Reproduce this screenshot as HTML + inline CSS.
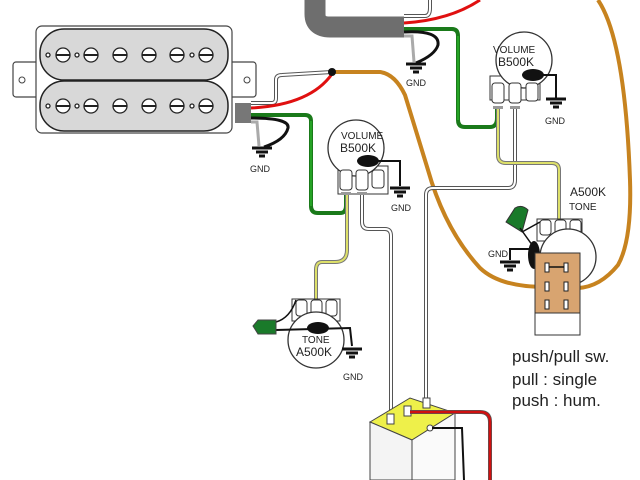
<!DOCTYPE html>
<html><head><meta charset="utf-8"><style>
html,body{margin:0;padding:0;background:#fff;width:640px;height:480px;overflow:hidden}
svg{display:block}
text{font-family:"Liberation Sans",sans-serif;fill:#222}
</style></head><body>
<svg width="640" height="480" viewBox="0 0 640 480" xmlns="http://www.w3.org/2000/svg">
<defs>
<g id="gnd"><path d="M0,0" /><line x1="-10" y1="0" x2="10" y2="0" stroke="#111" stroke-width="3"/><line x1="-6" y1="4" x2="6" y2="4" stroke="#111" stroke-width="3"/><line x1="-3" y1="8" x2="3" y2="8" stroke="#111" stroke-width="3"/></g>
</defs>
<!-- orange wires -->
<path d="M332,72 L380,72 Q395,74 405,95 L428,170 Q445,230 480,268 Q500,287 545,287" fill="none" stroke="#c7831f" stroke-width="4"/>
<path d="M598,0 Q625,40 630,180 Q632,240 618,265 Q600,287 578,288" fill="none" stroke="#c7831f" stroke-width="4"/>
<!-- top grey cable -->
<path d="M315,0 L315,14 Q315,27 330,27 L404,27" fill="none" stroke="#6e6e6e" stroke-width="21"/>
<path d="M404,16 L425,16 Q430,16 430,8 L430,0" fill="none" stroke="#555" stroke-width="4"/>
<path d="M404,16 L425,16 Q430,16 430,8 L430,0" fill="none" stroke="#fff" stroke-width="2"/>
<path d="M404,23 Q450,20 480,0" fill="none" stroke="#e01010" stroke-width="3"/>
<path d="M404,29 L452,29 Q458,29 458,36 L458,120 Q458,127 465,127 L490,127 Q497,127 497,118 L497,108" fill="none" stroke="#1a7a1a" stroke-width="4"/>
<path d="M458,36 L458,120" fill="none" stroke="#3c3" stroke-width="1"/>
<path d="M404,32 Q440,30 438,45 Q435,55 416,63" fill="none" stroke="#111" stroke-width="3"/>
<path d="M404,36 L412,36 L414,62" fill="none" stroke="#aaa" stroke-width="3"/>
<use href="#gnd" x="416" y="64"/>
<text x="406" y="86" font-size="9">GND</text>
<!-- pickup -->
<rect x="13" y="62" width="30" height="35" rx="3" fill="#fff" stroke="#444" stroke-width="1.2"/>
<rect x="228" y="62" width="28" height="35" rx="3" fill="#fff" stroke="#444" stroke-width="1.2"/>
<circle cx="22" cy="80" r="3" fill="#fff" stroke="#444"/>
<circle cx="247" cy="80" r="3" fill="#fff" stroke="#444"/>
<rect x="36" y="26" width="196" height="107" rx="6" fill="#fff" stroke="#444" stroke-width="1.2"/>
<rect x="40" y="29" width="188" height="51" rx="24" fill="#d8d8d8" stroke="#222" stroke-width="1.5"/>
<rect x="40" y="81" width="188" height="50" rx="24" fill="#d8d8d8" stroke="#222" stroke-width="1.5"/>
<g fill="#fff" stroke="#222" stroke-width="1.3">
<circle cx="63" cy="55" r="7"/><circle cx="91" cy="55" r="7"/><circle cx="120" cy="55" r="7"/><circle cx="149" cy="55" r="7"/><circle cx="177" cy="55" r="7"/><circle cx="206" cy="55" r="7"/>
<circle cx="63" cy="106" r="7"/><circle cx="91" cy="106" r="7"/><circle cx="120" cy="106" r="7"/><circle cx="149" cy="106" r="7"/><circle cx="177" cy="106" r="7"/><circle cx="206" cy="106" r="7"/>
<circle cx="48" cy="55" r="2"/><circle cx="77" cy="55" r="2"/><circle cx="192" cy="55" r="2"/>
<circle cx="48" cy="106" r="2"/><circle cx="77" cy="106" r="2"/><circle cx="192" cy="106" r="2"/>
</g>
<g stroke="#222" stroke-width="2">
<path d="M56,55h14M84,55h14M113,55h14M142,55h14M170,55h14M199,55h14M56,106h14M84,106h14M113,106h14M142,106h14M170,106h14M199,106h14"/>
</g>
<!-- pickup wires -->
<rect x="235" y="103" width="16" height="20" fill="#777"/>
<path d="M251,103 L272,103 Q276,103 276,98 L276,80 Q276,75 282,75 L332,72" fill="none" stroke="#555" stroke-width="4"/>
<path d="M251,103 L272,103 Q276,103 276,98 L276,80 Q276,75 282,75 L332,72" fill="none" stroke="#fff" stroke-width="2"/>
<path d="M251,108 Q310,105 332,74" fill="none" stroke="#e01010" stroke-width="3"/>
<path d="M251,115 L305,115 Q311,115 311,121 L311,206 Q311,213 318,213 L340,213 Q346,213 346,206 L346,195" fill="none" stroke="#1a7a1a" stroke-width="4"/>
<path d="M311,121 L311,206" stroke="#3c3" stroke-width="1"/>
<path d="M251,118 Q290,118 288,128 Q285,140 264,147" fill="none" stroke="#111" stroke-width="3"/>
<path d="M251,122 L257,122 L259,146" fill="none" stroke="#aaa" stroke-width="3"/>
<circle cx="332" cy="72" r="4" fill="#111"/>
<use href="#gnd" x="262" y="148"/>
<text x="250" y="172" font-size="9">GND</text>
<!-- grey wires to bottom switch -->
<path d="M362,195 L362,222 Q362,229 369,229 L385,229 Q391,229 391,236 L391,418" fill="none" stroke="#555" stroke-width="4"/>
<path d="M362,195 L362,222 Q362,229 369,229 L385,229 Q391,229 391,236 L391,418" fill="none" stroke="#fff" stroke-width="2"/>
<path d="M515,108 L515,180 Q515,188 508,188 L433,188 Q426,188 426,195 L426,402" fill="none" stroke="#555" stroke-width="4"/>
<path d="M515,108 L515,180 Q515,188 508,188 L433,188 Q426,188 426,195 L426,402" fill="none" stroke="#fff" stroke-width="2"/>
<!-- yellow wires -->
<path d="M347,195 L347,250 Q347,262 335,262 L322,262 Q316,262 316,270 L316,300" fill="none" stroke="#777" stroke-width="4"/>
<path d="M347,195 L347,250 Q347,262 335,262 L322,262 Q316,262 316,270 L316,300" fill="none" stroke="#dde06a" stroke-width="2"/>
<path d="M498,108 L498,155 Q498,163 506,163 L552,163 Q559,163 559,170 L559,220" fill="none" stroke="#777" stroke-width="4"/>
<path d="M498,108 L498,155 Q498,163 506,163 L552,163 Q559,163 559,170 L559,220" fill="none" stroke="#dde06a" stroke-width="2"/>
<!-- volume pot 1 -->
<g>
<rect x="338" y="166" width="50" height="28" fill="#fff" stroke="#333"/>
<circle cx="356" cy="148" r="28" fill="#fff" stroke="#333" stroke-width="1.3"/>
<text x="341" y="139" font-size="10">VOLUME</text>
<text x="340" y="152" font-size="12">B500K</text>
<ellipse cx="368" cy="161" rx="11" ry="6" fill="#111"/>
<path d="M378,161 L400,161 L400,186" fill="none" stroke="#111" stroke-width="2"/>
<g fill="#fff" stroke="#333"><rect x="340" y="170" width="12" height="20" rx="3"/><rect x="356" y="170" width="12" height="20" rx="3"/><rect x="372" y="170" width="12" height="18" rx="3"/></g>
<rect x="341" y="192" width="10" height="3" fill="#999"/><rect x="357" y="192" width="10" height="3" fill="#999"/>
</g>
<use href="#gnd" x="400" y="188"/>
<text x="391" y="211" font-size="9">GND</text>
<!-- volume pot 2 -->
<g>
<rect x="490" y="76" width="50" height="24" fill="#fff" stroke="#333"/>
<circle cx="524" cy="60" r="28" fill="#fff" stroke="#333" stroke-width="1.3"/>
<text x="493" y="53" font-size="10">VOLUME</text>
<text x="498" y="66" font-size="12">B500K</text>
<ellipse cx="533" cy="75" rx="11" ry="6" fill="#111"/>
<path d="M543,75 L556,75 L556,98" fill="none" stroke="#111" stroke-width="2"/>
<g fill="#fff" stroke="#333"><rect x="492" y="83" width="12" height="20" rx="3"/><rect x="509" y="83" width="12" height="20" rx="3"/><rect x="526" y="83" width="12" height="18" rx="3"/></g>
<rect x="493" y="106" width="10" height="3" fill="#999"/><rect x="510" y="106" width="10" height="3" fill="#999"/>
</g>
<use href="#gnd" x="556" y="99"/>
<text x="545" y="124" font-size="9">GND</text>
<!-- tone pot 1 -->
<g>
<rect x="292" y="299" width="48" height="22" fill="#fff" stroke="#333"/>
<g fill="#fff" stroke="#333"><rect x="296" y="300" width="11" height="16" rx="3"/><rect x="311" y="300" width="11" height="16" rx="3"/><rect x="326" y="300" width="11" height="16" rx="3"/></g>
<circle cx="316" cy="340" r="28" fill="#fff" stroke="#333" stroke-width="1.3"/>
<text x="302" y="343" font-size="10">TONE</text>
<text x="296" y="356" font-size="12">A500K</text>
<ellipse cx="318" cy="328" rx="11" ry="6" fill="#111"/>
<path d="M276,322 Q290,318 296,300" fill="none" stroke="#111" stroke-width="1.5"/>
<path d="M276,330 L350,328 L352,346" fill="none" stroke="#111" stroke-width="2"/>
<path d="M253,326 L258,320 L276,320 L276,334 L258,334 Z" fill="#1a7a2a" stroke="#444"/>
</g>
<use href="#gnd" x="352" y="349"/>
<text x="343" y="380" font-size="9">GND</text>
<!-- tone pot 2 + switch -->
<g>
<rect x="537" y="219" width="45" height="22" fill="#fff" stroke="#333"/>
<g fill="#fff" stroke="#333"><rect x="540" y="220" width="11" height="15" rx="3"/><rect x="555" y="220" width="11" height="15" rx="3"/><rect x="570" y="220" width="11" height="15" rx="3"/></g>
<circle cx="568" cy="257" r="28" fill="#fff" stroke="#333" stroke-width="1.3"/>
<path d="M506,222 L515,208 Q522,204 528,210 L522,232 Z" fill="#1a7a2a" stroke="#333"/>
<path d="M520,228 L540,256 M522,232 L540,222" stroke="#111" stroke-width="1.5" fill="none"/>
<ellipse cx="534" cy="255" rx="6" ry="14" fill="#111"/>
<path d="M510,260 L510,249 L534,249" fill="none" stroke="#111" stroke-width="2"/>
<use href="#gnd" x="510" y="262"/>
<text x="488" y="257" font-size="9">GND</text>
<rect x="535" y="253" width="45" height="82" fill="#d8a470" stroke="#333"/>
<rect x="535" y="313" width="45" height="22" fill="#fff" stroke="#333"/>
<g fill="#fff" stroke="#222"><rect x="545" y="263" width="4" height="9"/><rect x="564" y="263" width="4" height="9"/><rect x="545" y="282" width="4" height="9"/><rect x="564" y="282" width="4" height="9"/><rect x="545" y="300" width="4" height="9"/><rect x="564" y="300" width="4" height="9"/></g>
<line x1="549" y1="267" x2="564" y2="267" stroke="#111" stroke-width="1.5"/>
<text x="570" y="196" font-size="12">A500K</text>
<text x="569" y="210" font-size="10">TONE</text>
</g>
<!-- bottom text -->
<text x="512" y="362" font-size="17">push/pull sw.</text>
<text x="512" y="385" font-size="17">pull : single</text>
<text x="512" y="406" font-size="17">push : hum.</text>
<!-- bottom switch -->
<path d="M370,422 L410,398 L455,413 L412,440 Z" fill="#eef04a" stroke="#444"/>
<path d="M370,422 L412,440 L412,480 L370,480 Z" fill="#f4f4f4" stroke="#444"/>
<path d="M412,440 L455,413 L455,480 L412,480 Z" fill="#fafafa" stroke="#444"/>
<rect x="387" y="414" width="7" height="10" fill="#fff" stroke="#444"/>
<rect x="423" y="398" width="7" height="10" fill="#fff" stroke="#444"/>
<rect x="404" y="406" width="7" height="10" fill="#fff" stroke="#444"/>
<path d="M410,412 L480,412 Q490,412 490,422 L490,480" fill="none" stroke="#555" stroke-width="4"/>
<path d="M410,412 L480,412 Q490,412 490,422 L490,480" fill="none" stroke="#d01010" stroke-width="2.5"/>
<circle cx="430" cy="428" r="3" fill="#fff" stroke="#444"/>
<path d="M432,428 L462,428 L464,480" fill="none" stroke="#111" stroke-width="2"/>
</svg>
</body></html>
